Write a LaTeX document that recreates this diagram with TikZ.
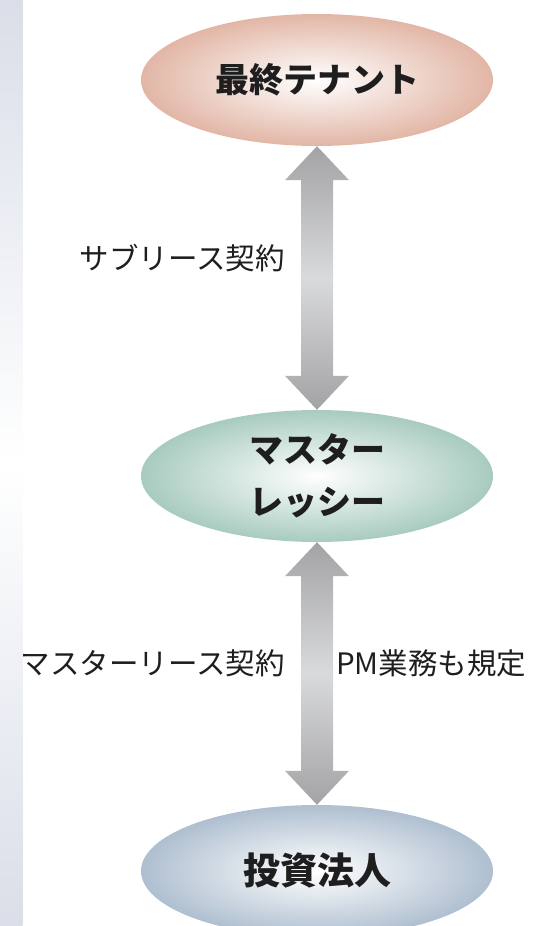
\documentclass[tikz,border=0pt]{standalone}
\usepackage{fontspec}
\setmainfont{Noto Sans CJK JP}
\usetikzlibrary{shapes.geometric,calc}
\definecolor{pinkc}{HTML}{E2B6A6}
\definecolor{tealc}{HTML}{A8CBBF}
\definecolor{bluec}{HTML}{AFBFD0}
\definecolor{stripc}{HTML}{D9DEE8}
\definecolor{arrowdark}{HTML}{A3A3A5}
\definecolor{arrowlight}{HTML}{D9DADC}
\definecolor{inkc}{HTML}{1E1E1E}
\begin{document}
\begin{tikzpicture}[x=1pt,y=-1pt,
  party/.style={ellipse, minimum width=352pt, minimum height=132pt, inner sep=0pt,
    shading=radial, inner color=white, outer color=#1, text=inkc,
    font=\fontsize{34}{52}\selectfont\bfseries, align=center},
  lbl/.style={inner sep=0pt, text=inkc, font=\fontsize{29.5}{36}\selectfont},
  bigarrow/.style={top color=arrowdark, bottom color=arrowdark, middle color=arrowlight, draw=none}]
\useasboundingbox (0,0) rectangle (541,926);
\shade[top color=stripc, bottom color=stripc, middle color=white] (0,0) rectangle (22.5,926);

\node[party=pinkc] (tenant) at (317,80) {最終テナント};
\node[party=tealc] (lessee) at (317,476) {マスター\\レッシー};
\node[party=bluec, font=\fontsize{37}{44}\selectfont\bfseries] (fund) at (317,871) {投資法人};

\path[bigarrow] (tenant.south) -- ++(32,34) -- ++(-16,0) -- ($(lessee.north)+(16,-34)$)
  -- ++(16,0) -- (lessee.north) -- ++(-32,-34) -- ++(16,0) -- ($(tenant.south)+(-16,34)$)
  -- ++(-16,0) -- cycle;
\path[bigarrow] (lessee.south) -- ++(32,34) -- ++(-16,0) -- ($(fund.north)+(16,-34)$)
  -- ++(16,0) -- (fund.north) -- ++(-32,-34) -- ++(16,0) -- ($(lessee.south)+(-16,34)$)
  -- ++(-16,0) -- cycle;

\node[lbl, anchor=east] (sub) at (285,258) {サブリース契約};
\node[lbl, anchor=east] (ml) at (285,663) {マスターリース契約};
\node[lbl, anchor=west] (pm) at (336,663) {PM業務も規定};
\end{tikzpicture}
\end{document}
